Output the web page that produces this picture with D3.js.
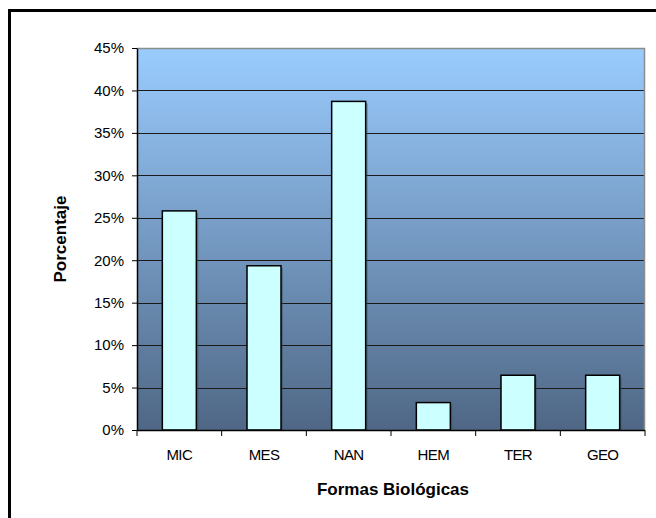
<!DOCTYPE html>
<html>
<head>
<meta charset="utf-8">
<script src="https://cdn.jsdelivr.net/npm/d3@7"></script>
<style>
  html, body { margin: 0; padding: 0; background: #fff; }
  svg { display: block; }
  text { font-family: "Liberation Sans", Arial, sans-serif; }
</style>
</head>
<body>
<svg id="chart" width="656" height="518"></svg>
<script>
// Life forms and their share of species
const categories = ["MIC", "MES", "NAN", "HEM", "TER", "GEO"];
const values = [0.2581, 0.1935, 0.3871, 0.0323, 0.0645, 0.0645];
const yTicks = [0, 0.05, 0.10, 0.15, 0.20, 0.25, 0.30, 0.35, 0.40, 0.45];

const svg = d3.select("#chart");
const plot = { left: 137, right: 645, top: 48, bottom: 430 };

// Outer frame
svg.append("rect")
  .attr("x", 9.5).attr("y", 10.5)
  .attr("width", 660).attr("height", 520)
  .attr("fill", "#fff").attr("stroke", "#000").attr("stroke-width", 3);

const x = d3.scaleBand().domain(categories)
  .range([plot.left, plot.right]).paddingInner(0).paddingOuter(0);
const y = d3.scaleLinear().domain([0, 0.45]).range([plot.bottom, plot.top]);

// Plot background gradient
const defs = svg.append("defs");
const grad = defs.append("linearGradient").attr("id", "bg")
  .attr("x1", 0).attr("y1", 0).attr("x2", 0).attr("y2", 1);
grad.append("stop").attr("offset", "0%").attr("stop-color", "#9accff");
grad.append("stop").attr("offset", "100%").attr("stop-color", "#4f6785");

svg.append("rect")
  .attr("x", plot.left).attr("y", plot.top)
  .attr("width", plot.right - plot.left).attr("height", plot.bottom - plot.top)
  .attr("fill", "url(#bg)");

// Gridlines
svg.append("g").selectAll("line")
  .data(yTicks.filter(d => d > 0 && d < 0.45))
  .join("line")
  .attr("x1", plot.left).attr("x2", plot.right)
  .attr("y1", d => Math.round(y(d)) + 0.5).attr("y2", d => Math.round(y(d)) + 0.5)
  .attr("stroke", "#1a1a1a").attr("stroke-width", 1);

// Plot border (top and right, grey)
svg.append("path")
  .attr("d", `M${plot.left},${plot.top + 0.5}H${plot.right - 0.5}V${plot.bottom}`)
  .attr("fill", "none").attr("stroke", "#8c8c8c").attr("stroke-width", 1.5);

// Bars
const barW = 34;
const bars = svg.append("g");
bars.selectAll("rect.shadow")
  .data(values)
  .join("rect")
  .attr("class", "shadow")
  .attr("x", (d, i) => x(categories[i]) + (x.bandwidth() - barW) / 2 + 2)
  .attr("y", d => y(d) + 2)
  .attr("width", barW)
  .attr("height", d => y(0) - y(d) - 2)
  .attr("fill", "#3a4a5e").attr("opacity", 0.45);
bars.selectAll("rect.bar")
  .data(values)
  .join("rect")
  .attr("class", "bar")
  .attr("x", (d, i) => x(categories[i]) + (x.bandwidth() - barW) / 2)
  .attr("y", d => y(d))
  .attr("width", barW)
  .attr("height", d => y(0) - y(d))
  .attr("fill", "#ccffff").attr("stroke", "#000").attr("stroke-width", 1.5);

// Y axis
const yAxis = d3.axisLeft(y).tickValues(yTicks)
  .tickFormat(d3.format(".0%")).tickSizeOuter(0).tickSizeInner(5).tickPadding(8);
const gy = svg.append("g").attr("transform", `translate(${plot.left},0)`).call(yAxis);
gy.select(".domain").attr("stroke", "#000").attr("stroke-width", 1.5);
gy.selectAll(".tick line").attr("stroke", "#000");
gy.selectAll("text").attr("font-size", 15).attr("fill", "#000")
  .attr("font-family", "Liberation Sans, Arial, sans-serif");

// X axis: ticks at band boundaries
const gx = svg.append("g").attr("transform", `translate(0,${plot.bottom})`);
gx.append("line").attr("x1", plot.left).attr("x2", plot.right)
  .attr("y1", 0.5).attr("y2", 0.5).attr("stroke", "#000").attr("stroke-width", 1.5);
gx.selectAll("line.tk")
  .data(categories.map(c => x(c)).concat([plot.right]))
  .join("line").attr("class", "tk")
  .attr("x1", d => d).attr("x2", d => d)
  .attr("y1", 0).attr("y2", 6).attr("stroke", "#000");
gx.selectAll("text")
  .data(categories)
  .join("text")
  .attr("x", d => x(d) + x.bandwidth() / 2)
  .attr("y", 30)
  .attr("text-anchor", "middle")
  .attr("font-size", 15).attr("letter-spacing", -0.6)
  .text(d => d);

// Axis titles
svg.append("text")
  .attr("x", (plot.left + plot.right) / 2 + 2).attr("y", 495)
  .attr("text-anchor", "middle").attr("font-weight", "bold").attr("font-size", 17)
  .text("Formas Biológicas");
svg.append("text")
  .attr("transform", `translate(66,${(plot.top + plot.bottom) / 2}) rotate(-90)`)
  .attr("text-anchor", "middle").attr("font-weight", "bold").attr("font-size", 17)
  .text("Porcentaje");
</script>
</body>
</html>
